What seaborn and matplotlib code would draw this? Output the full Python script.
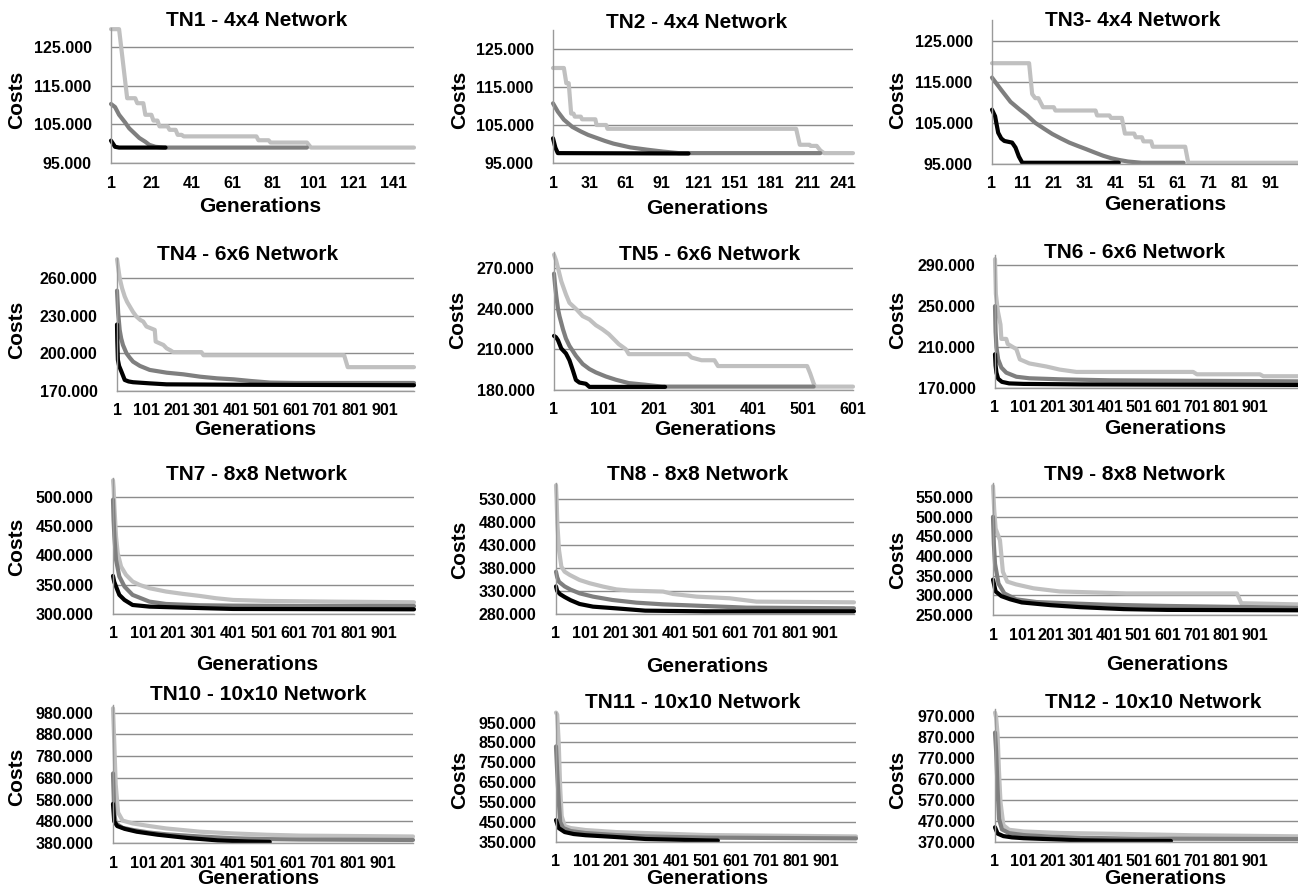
import matplotlib
matplotlib.use("Agg")
import matplotlib.pyplot as plt
import pandas as pd
import seaborn as sns

# ---------------- DATA (costs in thousands, i.e. 125.000 = 125,000) ----------------
titles = ["TN1 - 4x4 Network", "TN2 - 4x4 Network", "TN3- 4x4 Network",
          "TN4 - 6x6 Network", "TN5 - 6x6 Network", "TN6 - 6x6 Network",
          "TN7 - 8x8 Network", "TN8 - 8x8 Network", "TN9 - 8x8 Network",
          "TN10 - 10x10 Network", "TN11 - 10x10 Network", "TN12 - 10x10 Network"]

# (generation, cost) readings for the three runs of each network
tn1_light = [(1,129.7),(5,129.7),(9,111.8),(13,111.8),(14,110.5),(17,110.5),(18,107.5),(21,107.5),(22,106),(24,106),(25,104.5),(29,104.5),(30,103.6),(33,103.6),(34,102.3),(36,102.3),(37,101.9),(73,101.9),(74,100.9),(79,100.9),(80,100.3),(98,100.3),(100,99),(151,99)]
tn1_mid = [(1,110.3),(3,109.5),(5,107.5),(8,105.5),(10,104),(13,102.5),(15,101.5),(18,100.5),(20,99.7),(23,99.2),(27,99),(98,99)]
tn1_dark = [(1,100.8),(2,100),(3,99.2),(5,99),(28,99)]

tn2_light = [(1,120),(10,120),(12,116),(14,116),(16,108),(18,108),(19,107.2),(24,107.2),(25,106.5),(36,106.5),(37,105),(45,105),(46,104),(202,104),(205,99.8),(213,99.8),(214,99.5),(219,99.5),(222,98.3),(225,97.6),(249,97.6)]
tn2_mid = [(1,110.7),(5,108.5),(10,106.4),(17,104.5),(24,103.3),(30,102.4),(37,101.6),(44,100.8),(51,100.1),(58,99.6),(65,99.1),(79,98.5),(92,98),(105,97.6),(222,97.6)]
tn2_dark = [(1,101.5),(3,99),(5,97.6),(113,97.5)]

tn3_light = [(1,119.5),(13,119.5),(14,112),(15,111),(16,111),(17.5,108.8),(21,108.8),(21.5,108),(34.5,108),(35,106.8),(39,106.8),(39.5,106.2),(43,106.2),(44,102.4),(47,102.4),(47.5,101.5),(49.5,101.5),(50,100.5),(52.5,100.5),(53,99.2),(63.5,99.2),(64.5,95.3),(100,95.3)]
tn3_mid = [(1,116),(4,113),(7,110.1),(10,108.2),(12.4,106.8),(15,105),(17.8,103.6),(20.5,102.3),(23.3,101.2),(26,100.2),(28.7,99.4),(31.5,98.6),(34.2,97.8),(37,97),(39.6,96.4),(42,96),(45,95.6),(49.4,95.3),(63,95.3)]
tn3_dark = [(1,108.2),(2,106.6),(3,102.6),(4,101.2),(5,100.6),(7.5,100.2),(8.6,99),(9.7,96.8),(10.8,95.3),(42,95.3)]

tn4_light = [(1,275),(10,260),(18,252),(27,245.3),(35,241),(44,237.4),(55,233),(66,229.4),(80,226.5),(89,225.4),(100,221.4),(128,218.7),(131,209.4),(157,206.7),(168,204),(180,202.5),(190,201),(285,201),(292,198.5),(765,198.5),(777,189),(1000,189)]
tn4_mid = [(1,250),(5,232),(10,218.7),(15,212),(21,206.7),(33,200),(44,196.5),(55,193.4),(78,190),(111,186.8),(168,184.6),(224,183.3),(281,181.4),(337,180.1),(393,179.3),(450,178),(517,176.7),(600,176.4),(1000,176.4)]
tn4_dark = [(1,223),(2,210),(4,194.8),(8,190),(16,185.4),(27,178.8),(40,177.6),(55,177),(111,176.1),(168,175.3),(400,175),(1000,174.6)]

tn5_light = [(1,280),(5,276),(9,270.2),(15.6,260.4),(25,250.6),(32,244.4),(45,240),(58.6,234.6),(72,232.2),(85,227.9),(98,224.9),(111,221.3),(121,217.6),(131,213.9),(145,210.2),(151,206.5),(270,206.5),(277,204),(297,202),(323,202),(330,197.7),(509,197.7),(515,192.3),(522,184.9),(525,182.5),(601,182.5)]
tn5_mid = [(1,266),(3,258),(5.6,249.4),(9,240),(12,234.6),(19,224.9),(25,218),(32,212.6),(45,205.3),(58.6,199.2),(72,195.5),(85,193),(105,190),(125,187.6),(151,185.1),(184,183.9),(218,182.5),(522,182.5)]
tn5_dark = [(1,220),(5,219),(9,216.8),(15.6,210.7),(25,207),(32,202),(38.7,194.7),(45,187.4),(52,185.5),(65,184.6),(72,182.3),(224,182.3)]

tn6_light = [(1,296),(4,262),(11,245),(20,232),(23,218),(40,218),(45,213),(75,208),(87,198),(120,194),(179,191),(225,188),(283,185.7),(687,185.7),(700,183.4),(918,183.4),(930,181.5),(1050,181.5)]
tn6_mid = [(1,250),(3,225),(6,210),(12,198),(23,190),(40,185),(75,181),(120,179.5),(225,178.5),(400,177.5),(700,177),(1050,176.5)]
tn6_dark = [(1,203),(3,192),(6,185),(12,179),(25,176),(50,174.5),(100,174),(300,173.5),(1050,173)]

tn7_light = [(1,528),(3,515),(5.5,484),(11,432.6),(16.6,404),(27.7,381),(44,366.9),(66,355.4),(89,349.7),(122,344),(177,338.3),(233,334.3),(288,330.9),(343,326.9),(399,324),(509,322.3),(731,321.1),(1000,320)]
tn7_mid = [(1,495),(3,460),(5.5,432.6),(11,392.6),(22,364),(39,346.9),(66,332.6),(122,321.1),(177,317.1),(288,314.9),(399,314.3),(620,313.7),(1000,313.7)]
tn7_dark = [(1,365),(5,355),(11,346.9),(22,332.6),(39,324),(66,315.4),(122,312.6),(233,310.9),(399,308.6),(1000,308)]

tn8_light = [(1,560),(3,530),(5.5,477.7),(11,419.5),(19,383),(30,372),(47,365),(80,354),(114,346.9),(159,339.6),(203,333.6),(248,330.9),(360,328.8),(393,323.6),(472,317.8),(583,314.2),(673,306.9),(1000,305.4)]
tn8_mid = [(1,372),(5,360),(11,350),(30,340),(50,333),(80,325),(125,317.8),(190,310.5),(270,304.7),(360,301),(470,298.2),(640,293.8),(1000,292.4)]
tn8_dark = [(1,340),(5,330),(15,323),(30,317),(50,310),(80,301.8),(125,296),(200,292.4),(300,287.3),(500,285.8),(1000,285.8)]

tn9_light = [(1,578),(5,520),(10,470),(25,440),(35,360),(50,335),(80,328),(140,318),(230,310),(460,305),(840,305),(855,280),(1050,277)]
tn9_mid = [(1,500),(4,430),(8,380),(20,330),(40,305),(80,290),(150,283),(250,280),(400,276),(600,273),(900,270),(1050,268)]
tn9_dark = [(1,340),(10,310),(30,298),(60,290),(100,282),(200,275),(300,270),(450,265),(600,263),(1050,262)]

tn10_light = [(1,1000),(5,850),(10,650),(18,520),(33,483),(67,470),(122,458),(178,447),(290,432),(401,424),(512,418),(624,414),(1000,410)]
tn10_mid = [(1,700),(5,520),(10,470),(33,450),(67,440),(122,428),(178,420),(290,410),(401,402),(512,398),(624,396),(1000,394)]
tn10_dark = [(1,560),(5,480),(15,458),(40,445),(80,432),(150,418),(250,403),(350,392),(450,387),(523,385)]

tn11_light = [(1,1000),(5,990),(10,850),(15,620),(20,480),(30,430),(50,420),(100,410),(200,400),(300,395),(500,385),(1000,378)]
tn11_mid = [(1,830),(5,700),(10,560),(15,450),(25,420),(50,405),(100,395),(200,385),(300,378),(500,372),(1000,368)]
tn11_dark = [(1,460),(10,420),(30,400),(60,390),(100,384),(200,375),(300,365),(500,358),(540,357)]

tn12_light = [(1,985),(5,960),(10,880),(15,700),(20,560),(30,450),(50,428),(100,420),(225,413),(455,408),(685,402),(1050,397)]
tn12_mid = [(1,890),(5,800),(10,620),(15,480),(25,430),(50,412),(100,403),(200,395),(300,390),(500,386),(1050,384)]
tn12_dark = [(1,440),(10,410),(30,398),(60,392),(100,388),(200,383),(300,378),(400,376),(610,375)]

# axis ranges and tick labels
y_ranges = [(95,130),(95,130),(95,130),(170,276),(180,282),(170,300),
            (300,532),(280,565),(250,586),(380,1015),(350,1003),(370,1002)]
y_ticks = [[95,105,115,125],[95,105,115,125],[95,105,115,125],
           [170,200,230,260],[180,210,240,270],[170,210,250,290],
           [300,350,400,450,500],[280,330,380,430,480,530],[250,300,350,400,450,500,550],
           [380,480,580,680,780,880,980],[350,450,550,650,750,850,950],[370,470,570,670,770,870,970]]
x_max = [151,249,100,1000,601,1050,1000,1000,1050,1000,1000,1050]
x_ticks = [list(range(1,142,20)), list(range(1,242,30)), list(range(1,92,10)),
           list(range(1,902,100)), list(range(1,602,100)), list(range(1,902,100)),
           list(range(1,902,100)), list(range(1,902,100)), list(range(1,902,100)),
           list(range(1,902,100)), list(range(1,902,100)), list(range(1,902,100))]

series = [(tn1_light,tn1_mid,tn1_dark),(tn2_light,tn2_mid,tn2_dark),(tn3_light,tn3_mid,tn3_dark),
          (tn4_light,tn4_mid,tn4_dark),(tn5_light,tn5_mid,tn5_dark),(tn6_light,tn6_mid,tn6_dark),
          (tn7_light,tn7_mid,tn7_dark),(tn8_light,tn8_mid,tn8_dark),(tn9_light,tn9_mid,tn9_dark),
          (tn10_light,tn10_mid,tn10_dark),(tn11_light,tn11_mid,tn11_dark),(tn12_light,tn12_mid,tn12_dark)]

# ---------------- LAYOUT (pixels) ----------------
W, H = 1298, 894
# axes boxes: left, top, right, bottom
boxes = [(111,28,414,163),(553,30,853,163),(992,20,1298,164),
         (117,258,414,391),(554,252,853,390),(995,255,1298,388),
         (113,478,414,614),(556,483,854,614),(993,483,1298,615),
         (113,705,413,843),(556,712,856,842),(995,709,1298,842)]
title_pos = [(257,21),(697,22),(1133,21),(248,255),(710,255),(1135,253),
             (257,475),(698,475),(1135,475),(258,695),(693,702),(1153,702)]
xlabel_pos = [(260,207),(707,208),(1165,205),(255,430),(715,430),(1165,428),
              (257,665),(707,667),(1167,665),(258,879),(707,879),(1165,879)]
ylabel_pos = [(17,100),(460,100),(898,100),(17,330),(458,320),(898,320),
              (17,547),(460,550),(898,560),(17,777),(460,780),(898,780)]

colors = ["#c0c0c0", "#7f7f7f", "#000000"]

sns.set_style("white")
plt.rcParams["font.family"] = ["Liberation Sans", "DejaVu Sans"]
plt.rcParams["font.weight"] = "bold"
plt.rcParams["text.color"] = "black"
plt.rcParams["xtick.color"] = "black"
plt.rcParams["ytick.color"] = "black"

fig = plt.figure(figsize=(W / 100, H / 100), dpi=100)

for i in range(12):
    L, T, R, B = boxes[i]
    ax = fig.add_axes([L / W, 1 - B / H, (R - L) / W, (B - T) / H])
    for pts, col in zip(series[i], colors):
        df = pd.DataFrame(pts, columns=["Generation", "Cost"])
        sns.lineplot(data=df, x="Generation", y="Cost", ax=ax, color=col,
                     linewidth=3.0, estimator=None, sort=False, legend=False,
                     clip_on=False)
    ax.set_xlim(1, x_max[i])
    ax.set_ylim(*y_ranges[i])
    ax.set_yticks(y_ticks[i])
    ax.set_yticklabels([f"{v:.3f}" for v in y_ticks[i]])
    ax.set_xticks(x_ticks[i])
    ax.set_xticklabels([str(v) for v in x_ticks[i]])
    ax.set_xlabel("")
    ax.set_ylabel("")
    ax.grid(False)
    ax.yaxis.grid(True, color="#8c8c8c", linewidth=1.0)
    ax.set_axisbelow(True)
    ax.tick_params(axis="both", length=0, labelsize=11.5, colors="black")
    ax.tick_params(axis="y", pad=14)
    ax.tick_params(axis="x", pad=9)
    for lab in ax.get_xticklabels() + ax.get_yticklabels():
        lab.set_fontweight("bold")
    for s in ("top", "right"):
        ax.spines[s].set_visible(False)
    for s in ("left", "bottom"):
        ax.spines[s].set_color("#9a9a9a")
        ax.spines[s].set_linewidth(1.0)
    tx, ty = title_pos[i]
    fig.text(tx / W, 1 - ty / H, titles[i], ha="center", va="center",
             fontsize=15, fontweight="bold", color="black")
    gx, gy = xlabel_pos[i]
    fig.text(gx / W, 1 - gy / H, "Generations", ha="center", va="center",
             fontsize=15, fontweight="bold", color="black")
    cx, cy = ylabel_pos[i]
    fig.text(cx / W, 1 - cy / H, "Costs", ha="center", va="center",
             rotation=90, fontsize=15, fontweight="bold", color="black")

fig.savefig("out.png", dpi=100, facecolor="white")
